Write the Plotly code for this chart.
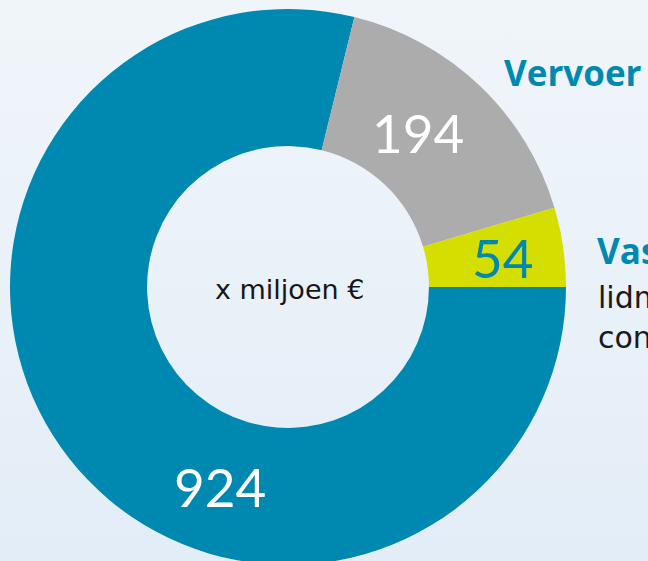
import plotly.graph_objects as go

# ---- data ----
categories = ["Overig", "Vervoer", "Vaste lidmaatschappen en contributies"]
values = [924, 194, 54]
value_labels = ["924", "194", "54"]
slice_colors = ["#0089b0", "#acacad", "#d4de00"]
label_colors = ["#ffffff", "#ffffff", "#0089b0"]
side_title_1 = "Vervoer"
side_title_2 = "Vaste"
side_lines_2 = ["lidmaatschappen", "contributies"]
center_text = "x miljoen €"

W, H = 648, 570


def px(x, y):
    return x / W, (H - y) / H


fig = go.Figure()

# background gradient
fig.add_trace(go.Scatter(
    x=[0, 1, 1, 0, 0], y=[0, 0, 1, 1, 0], mode="lines", fill="toself",
    line=dict(width=0),
    fillgradient=dict(type="vertical",
                      colorscale=[[0, "#e3edf7"], [1, "#f0f5fa"]]),
    hoverinfo="skip", showlegend=False,
))

cx, cy, r = 288, 287, 278
fig.add_trace(go.Pie(
    labels=categories, values=values, sort=False, direction="clockwise",
    rotation=90, hole=0.507, textinfo="none",
    marker=dict(colors=slice_colors, line=dict(width=0)),
    domain=dict(x=[(cx - r) / W, (cx + r) / W],
                y=[(H - (cy + r)) / H, (H - (cy - r)) / H]),
    showlegend=False, hoverinfo="label+value",
))

annotations = []
label_pos = [(220, 486), (418, 132), (502, 257)]
for t, c, (x, y) in zip(value_labels, label_colors, label_pos):
    ax, ay = px(x, y)
    annotations.append(dict(x=ax, y=ay, xref="paper", yref="paper", text=t,
                            showarrow=False, xanchor="center", yanchor="middle",
                            font=dict(family="Lato", size=53, color=c)))

ax, ay = px(289, 289)
annotations.append(dict(x=ax, y=ay, xref="paper", yref="paper", text=center_text,
                        showarrow=False, xanchor="center", yanchor="middle",
                        font=dict(family="DejaVu Sans", size=27, color="#161616")))

ax, ay = px(502, 73)
annotations.append(dict(x=ax, y=ay, xref="paper", yref="paper", text=f"<b>{side_title_1}</b>",
                        showarrow=False, xanchor="left", yanchor="middle",
                        font=dict(family="Open Sans", size=35, color="#0089b0")))
ax, ay = px(595, 250)
annotations.append(dict(x=ax, y=ay, xref="paper", yref="paper", text=f"<b>{side_title_2}</b>",
                        showarrow=False, xanchor="left", yanchor="middle",
                        font=dict(family="Open Sans", size=35, color="#0089b0")))
for line, yc in zip(side_lines_2, [297, 337]):
    ax, ay = px(596, yc)
    annotations.append(dict(x=ax, y=ay, xref="paper", yref="paper", text=line,
                            showarrow=False, xanchor="left", yanchor="middle",
                            font=dict(family="DejaVu Sans", size=30, color="#1a1a1a")))

fig.update_layout(
    width=W, height=H, margin=dict(l=0, r=0, t=0, b=0),
    paper_bgcolor="#eaf1f8", plot_bgcolor="rgba(0,0,0,0)",
    xaxis=dict(visible=False, range=[0, 1], fixedrange=True),
    yaxis=dict(visible=False, range=[0, 1], fixedrange=True),
    annotations=annotations,
)

fig.write_html("out.html", config=dict(displayModeBar=False),
               post_script="document.body.style.margin='0';document.body.style.overflow='hidden';")
